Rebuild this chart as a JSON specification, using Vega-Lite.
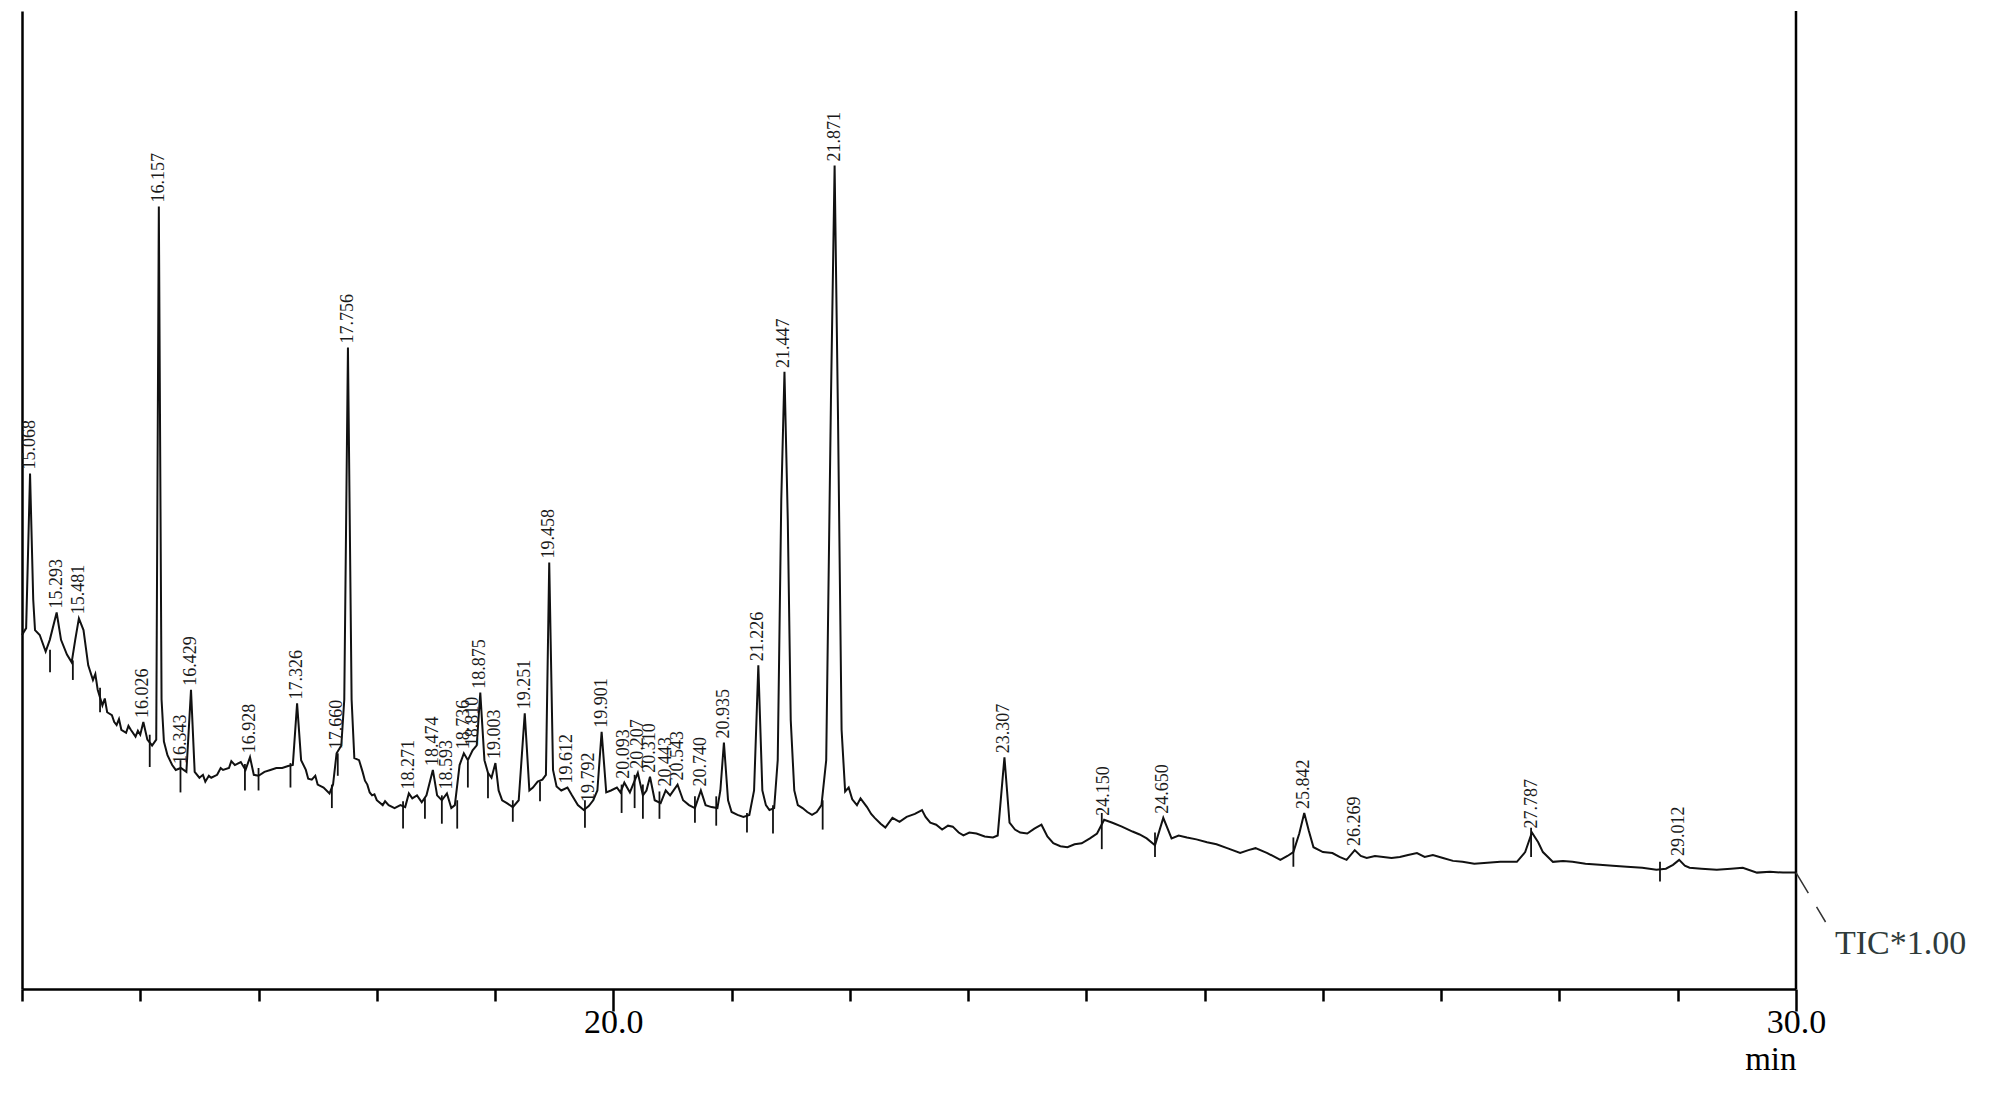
{
  "$schema": "https://vega.github.io/schema/vega-lite/v6.json",
  "autosize": "none",
  "width": 1774,
  "height": 978,
  "padding": {"left": 22, "top": 11, "right": 204, "bottom": 111},
  "background": "white",
  "config": {"view": {"stroke": null}},
  "datasets": {
    "trace": [
      {"t":15.000,"v":36.2},{"t":15.035,"v":36.9},{"t":15.068,"v":52.7},{"t":15.095,"v":39.8},{"t":15.110,"v":36.7},
      {"t":15.150,"v":36.2},{"t":15.200,"v":34.5},{"t":15.235,"v":35.7},{"t":15.293,"v":38.5},{"t":15.330,"v":35.7},
      {"t":15.380,"v":34.2},{"t":15.420,"v":33.4},{"t":15.450,"v":35.7},{"t":15.481,"v":37.9},{"t":15.520,"v":36.7},
      {"t":15.560,"v":33.1},{"t":15.600,"v":31.6},{"t":15.620,"v":32.2},{"t":15.640,"v":30.6},{"t":15.680,"v":29.0},{"t":15.700,"v":29.7},{"t":15.720,"v":28.3},
      {"t":15.760,"v":28.0},{"t":15.780,"v":27.3},{"t":15.800,"v":27.0},{"t":15.820,"v":27.6},{"t":15.840,"v":26.5},{"t":15.880,"v":26.2},{"t":15.900,"v":26.9},{"t":15.920,"v":26.5},
      {"t":15.960,"v":25.8},{"t":15.980,"v":26.4},{"t":16.000,"v":26.0},{"t":16.026,"v":27.3},{"t":16.060,"v":25.5},{"t":16.100,"v":24.9},
      {"t":16.135,"v":25.5},{"t":16.157,"v":80.0},{"t":16.180,"v":29.6},{"t":16.200,"v":25.3},{"t":16.230,"v":23.9},
      {"t":16.270,"v":22.9},{"t":16.300,"v":22.4},{"t":16.343,"v":22.6},{"t":16.390,"v":22.2},{"t":16.429,"v":30.6},
      {"t":16.460,"v":22.2},{"t":16.500,"v":21.6},{"t":16.530,"v":21.9},{"t":16.550,"v":21.2},{"t":16.580,"v":21.8},{"t":16.600,"v":21.6},{"t":16.650,"v":21.9},
      {"t":16.680,"v":22.6},{"t":16.700,"v":22.4},{"t":16.750,"v":22.6},{"t":16.770,"v":23.3},{"t":16.800,"v":22.9},{"t":16.850,"v":23.2},{"t":16.890,"v":22.4},
      {"t":16.928,"v":23.7},{"t":16.960,"v":21.9},{"t":17.000,"v":21.8},{"t":17.050,"v":22.2},{"t":17.100,"v":22.4},
      {"t":17.150,"v":22.6},{"t":17.200,"v":22.6},{"t":17.250,"v":22.8},{"t":17.290,"v":22.9},{"t":17.326,"v":29.2},
      {"t":17.360,"v":23.4},{"t":17.400,"v":22.4},{"t":17.420,"v":21.5},{"t":17.450,"v":21.4},{"t":17.480,"v":21.8},{"t":17.500,"v":20.9},{"t":17.550,"v":20.6},
      {"t":17.600,"v":20.0},{"t":17.630,"v":20.9},{"t":17.660,"v":24.1},{"t":17.700,"v":24.9},{"t":17.725,"v":29.6},
      {"t":17.756,"v":65.6},{"t":17.787,"v":29.6},{"t":17.810,"v":23.6},{"t":17.850,"v":23.4},{"t":17.880,"v":22.2},
      {"t":17.900,"v":21.3},{"t":17.920,"v":20.9},{"t":17.940,"v":20.1},{"t":17.960,"v":19.8},{"t":17.980,"v":19.9},{"t":18.000,"v":19.3},{"t":18.050,"v":18.8},{"t":18.070,"v":19.2},{"t":18.100,"v":18.8},
      {"t":18.150,"v":18.5},{"t":18.200,"v":18.8},{"t":18.240,"v":18.6},{"t":18.271,"v":20.0},{"t":18.300,"v":19.5},
      {"t":18.340,"v":19.8},{"t":18.380,"v":19.1},{"t":18.420,"v":19.8},{"t":18.474,"v":22.4},{"t":18.510,"v":19.8},
      {"t":18.550,"v":19.3},{"t":18.593,"v":20.0},{"t":18.630,"v":18.5},{"t":18.660,"v":18.8},{"t":18.700,"v":22.9},
      {"t":18.736,"v":24.1},{"t":18.770,"v":23.4},{"t":18.810,"v":24.4},{"t":18.845,"v":24.9},{"t":18.875,"v":30.3},
      {"t":18.910,"v":23.4},{"t":18.940,"v":22.1},{"t":18.970,"v":21.6},{"t":19.003,"v":23.1},{"t":19.030,"v":20.3},
      {"t":19.060,"v":19.3},{"t":19.100,"v":19.0},{"t":19.150,"v":18.6},{"t":19.200,"v":19.3},{"t":19.251,"v":28.2},
      {"t":19.290,"v":20.3},{"t":19.320,"v":20.6},{"t":19.360,"v":21.2},{"t":19.400,"v":21.4},{"t":19.430,"v":21.9},
      {"t":19.458,"v":43.6},{"t":19.490,"v":22.4},{"t":19.520,"v":20.7},{"t":19.560,"v":20.3},{"t":19.612,"v":20.6},
      {"t":19.650,"v":19.8},{"t":19.700,"v":18.8},{"t":19.750,"v":18.3},{"t":19.792,"v":18.7},{"t":19.830,"v":19.3},
      {"t":19.865,"v":20.3},{"t":19.901,"v":26.3},{"t":19.940,"v":20.1},{"t":19.980,"v":20.3},{"t":20.030,"v":20.6},
      {"t":20.060,"v":20.1},{"t":20.093,"v":21.1},{"t":20.140,"v":20.1},{"t":20.207,"v":22.1},{"t":20.250,"v":19.8},
      {"t":20.280,"v":20.3},{"t":20.310,"v":21.7},{"t":20.350,"v":19.3},{"t":20.400,"v":19.0},{"t":20.443,"v":20.3},
      {"t":20.480,"v":19.8},{"t":20.543,"v":20.9},{"t":20.590,"v":19.3},{"t":20.640,"v":18.8},{"t":20.690,"v":18.5},
      {"t":20.740,"v":20.3},{"t":20.780,"v":18.8},{"t":20.830,"v":18.6},{"t":20.880,"v":18.5},{"t":20.905,"v":20.3},
      {"t":20.935,"v":25.2},{"t":20.970,"v":19.3},{"t":21.000,"v":18.1},{"t":21.050,"v":17.8},{"t":21.100,"v":17.6},
      {"t":21.150,"v":17.8},{"t":21.190,"v":20.3},{"t":21.226,"v":33.1},{"t":21.260,"v":20.3},{"t":21.290,"v":18.8},
      {"t":21.320,"v":18.3},{"t":21.360,"v":18.5},{"t":21.390,"v":23.4},{"t":21.420,"v":50.0},{"t":21.447,"v":63.1},
      {"t":21.475,"v":48.0},{"t":21.500,"v":27.5},{"t":21.530,"v":20.3},{"t":21.560,"v":18.8},{"t":21.600,"v":18.5},
      {"t":21.640,"v":18.1},{"t":21.680,"v":17.8},{"t":21.720,"v":18.1},{"t":21.760,"v":18.8},{"t":21.800,"v":23.4},
      {"t":21.840,"v":60.2},{"t":21.871,"v":84.2},{"t":21.900,"v":58.2},{"t":21.930,"v":26.5},{"t":21.960,"v":20.2},
      {"t":21.990,"v":20.6},{"t":22.020,"v":19.4},{"t":22.060,"v":18.8},{"t":22.090,"v":19.5},{"t":22.145,"v":18.6},{"t":22.180,"v":17.9},
      {"t":22.210,"v":17.5},{"t":22.260,"v":16.9},{"t":22.300,"v":16.5},{"t":22.360,"v":17.5},{"t":22.420,"v":17.1},
      {"t":22.480,"v":17.6},{"t":22.550,"v":17.9},{"t":22.610,"v":18.3},{"t":22.640,"v":17.6},{"t":22.680,"v":17.0},
      {"t":22.730,"v":16.8},{"t":22.780,"v":16.3},{"t":22.830,"v":16.7},{"t":22.870,"v":16.6},{"t":22.920,"v":16.0},
      {"t":22.960,"v":15.7},{"t":23.010,"v":16.0},{"t":23.070,"v":15.9},{"t":23.140,"v":15.6},{"t":23.210,"v":15.5},
      {"t":23.250,"v":15.7},{"t":23.307,"v":23.7},{"t":23.350,"v":17.0},{"t":23.396,"v":16.3},{"t":23.440,"v":16.0},
      {"t":23.500,"v":15.9},{"t":23.560,"v":16.4},{"t":23.620,"v":16.8},{"t":23.670,"v":15.6},{"t":23.720,"v":14.9},
      {"t":23.780,"v":14.6},{"t":23.840,"v":14.5},{"t":23.900,"v":14.8},{"t":23.960,"v":14.9},{"t":24.030,"v":15.4},
      {"t":24.090,"v":15.9},{"t":24.150,"v":17.3},{"t":24.220,"v":17.0},{"t":24.300,"v":16.6},{"t":24.390,"v":16.1},
      {"t":24.450,"v":15.8},{"t":24.510,"v":15.4},{"t":24.580,"v":14.7},{"t":24.650,"v":17.5},{"t":24.720,"v":15.4},
      {"t":24.780,"v":15.7},{"t":24.850,"v":15.5},{"t":24.930,"v":15.3},{"t":25.020,"v":15.0},{"t":25.100,"v":14.8},
      {"t":25.190,"v":14.4},{"t":25.300,"v":13.9},{"t":25.370,"v":14.2},{"t":25.430,"v":14.4},{"t":25.530,"v":13.9},
      {"t":25.640,"v":13.2},{"t":25.700,"v":13.6},{"t":25.750,"v":14.0},{"t":25.800,"v":15.9},{"t":25.842,"v":18.0},
      {"t":25.880,"v":16.2},{"t":25.920,"v":14.5},{"t":26.000,"v":14.0},{"t":26.080,"v":13.9},{"t":26.140,"v":13.5},
      {"t":26.200,"v":13.2},{"t":26.269,"v":14.2},{"t":26.320,"v":13.6},{"t":26.370,"v":13.4},{"t":26.440,"v":13.6},
      {"t":26.510,"v":13.5},{"t":26.580,"v":13.4},{"t":26.650,"v":13.5},{"t":26.720,"v":13.7},{"t":26.795,"v":13.9},
      {"t":26.860,"v":13.5},{"t":26.930,"v":13.7},{"t":27.015,"v":13.4},{"t":27.100,"v":13.1},{"t":27.180,"v":13.0},
      {"t":27.280,"v":12.8},{"t":27.390,"v":12.9},{"t":27.500,"v":13.0},{"t":27.640,"v":13.0},{"t":27.710,"v":14.0},
      {"t":27.767,"v":16.0},{"t":27.820,"v":15.0},{"t":27.860,"v":14.0},{"t":27.945,"v":13.0},{"t":28.030,"v":13.1},
      {"t":28.110,"v":13.0},{"t":28.220,"v":12.8},{"t":28.340,"v":12.7},{"t":28.450,"v":12.6},{"t":28.570,"v":12.5},
      {"t":28.700,"v":12.4},{"t":28.820,"v":12.2},{"t":28.900,"v":12.3},{"t":28.960,"v":12.7},{"t":29.012,"v":13.2},
      {"t":29.060,"v":12.6},{"t":29.100,"v":12.4},{"t":29.200,"v":12.3},{"t":29.330,"v":12.2},{"t":29.450,"v":12.3},
      {"t":29.550,"v":12.4},{"t":29.670,"v":11.9},{"t":29.780,"v":12.0},{"t":29.890,"v":11.9},{"t":30.000,"v":11.9}
    ],
    "peaks": [
      {"t":15.068,"v":52.7,"label":"15.068"},{"t":15.293,"v":38.5,"label":"15.293"},{"t":15.481,"v":37.9,"label":"15.481"},
      {"t":16.026,"v":27.3,"label":"16.026"},{"t":16.157,"v":80.0,"label":"16.157"},{"t":16.343,"v":22.6,"label":"16.343"},
      {"t":16.429,"v":30.6,"label":"16.429"},{"t":16.928,"v":23.7,"label":"16.928"},{"t":17.326,"v":29.2,"label":"17.326"},
      {"t":17.660,"v":24.1,"label":"17.660"},{"t":17.756,"v":65.6,"label":"17.756"},{"t":18.271,"v":20.0,"label":"18.271"},
      {"t":18.474,"v":22.4,"label":"18.474"},{"t":18.593,"v":20.0,"label":"18.593"},{"t":18.736,"v":24.1,"label":"18.736"},
      {"t":18.810,"v":24.4,"label":"18.810"},{"t":18.875,"v":30.3,"label":"18.875"},{"t":19.003,"v":23.1,"label":"19.003"},
      {"t":19.251,"v":28.2,"label":"19.251"},{"t":19.458,"v":43.6,"label":"19.458"},{"t":19.612,"v":20.6,"label":"19.612"},
      {"t":19.792,"v":18.7,"label":"19.792"},{"t":19.901,"v":26.3,"label":"19.901"},{"t":20.093,"v":21.1,"label":"20.093"},
      {"t":20.207,"v":22.1,"label":"20.207"},{"t":20.310,"v":21.7,"label":"20.310"},{"t":20.443,"v":20.3,"label":"20.443"},
      {"t":20.543,"v":20.9,"label":"20.543"},{"t":20.740,"v":20.3,"label":"20.740"},{"t":20.935,"v":25.2,"label":"20.935"},
      {"t":21.226,"v":33.1,"label":"21.226"},{"t":21.447,"v":63.1,"label":"21.447"},{"t":21.871,"v":84.2,"label":"21.871"},
      {"t":23.307,"v":23.7,"label":"23.307"},{"t":24.150,"v":17.3,"label":"24.150"},{"t":24.650,"v":17.5,"label":"24.650"},
      {"t":25.842,"v":18.0,"label":"25.842"},{"t":26.269,"v":14.2,"label":"26.269"},{"t":27.767,"v":16.0,"label":"27.787"},
      {"t":29.012,"v":13.2,"label":"29.012"}
    ],
    "marks": [
      {"t":15.237,"v":34.7,"v2":32.4},{"t":15.43,"v":33.6,"v2":31.6},{"t":15.66,"v":30.8,"v2":28.3},{"t":16.08,"v":26.0,"v2":22.7},
      {"t":16.34,"v":23.4,"v2":20.1},{"t":16.885,"v":23.0,"v2":20.3},{"t":17.0,"v":22.6,"v2":20.3},{"t":17.27,"v":23.1,"v2":20.6},
      {"t":17.62,"v":20.9,"v2":18.5},{"t":17.67,"v":24.1,"v2":21.8},{"t":18.222,"v":19.2,"v2":16.4},{"t":18.407,"v":19.5,"v2":17.4},
      {"t":18.55,"v":19.8,"v2":16.9},{"t":18.68,"v":19.3,"v2":16.4},{"t":18.77,"v":23.3,"v2":20.6},{"t":18.94,"v":22.1,"v2":19.5},
      {"t":19.15,"v":19.3,"v2":17.1},{"t":19.38,"v":21.2,"v2":19.2},{"t":19.76,"v":19.3,"v2":16.5},{"t":20.07,"v":20.9,"v2":18.0},
      {"t":20.18,"v":21.9,"v2":18.5},{"t":20.25,"v":20.9,"v2":17.4},{"t":20.39,"v":20.2,"v2":17.4},{"t":20.69,"v":19.7,"v2":17.0},
      {"t":20.87,"v":19.7,"v2":16.7},{"t":21.13,"v":18.0,"v2":16.0},{"t":21.35,"v":18.8,"v2":15.9},{"t":21.77,"v":19.3,"v2":16.3},
      {"t":24.13,"v":18.0,"v2":14.3},{"t":24.58,"v":16.0,"v2":13.5},{"t":25.75,"v":15.5,"v2":12.5},{"t":27.76,"v":16.5,"v2":13.5},
      {"t":28.85,"v":13.0,"v2":11.0}
    ],
    "frame": [{"t":30,"v":0,"v2":100}],
    "tic": [{"t":30.0,"v":11.9},{"t":30.25,"v":6.85}],
    "ticlabel": [{"t":30.33,"v":4.6,"label":"TIC*1.00"}]
  },
  "encoding": {
    "x": {
      "field": "t", "type": "quantitative",
      "scale": {"domain": [15, 30], "nice": false, "zero": false},
      "axis": {
        "values": [15,16,17,18,19,20,21,22,23,24,25,26,27,28,29,30],
        "grid": false,
        "domainColor": "#000", "domainWidth": 2.5,
        "tickColor": "#000", "tickWidth": 2.5,
        "tickSize": {"condition": {"test": "datum.value == 20 || datum.value == 30", "value": 22}, "value": 12},
        "labelExpr": "datum.value == 20 || datum.value == 30 ? format(datum.value, '.1f') : ''",
        "labelFont": "Liberation Serif", "labelFontSize": 34, "labelColor": "#000",
        "labelPadding": -6, "labelFlush": false, "labelOverlap": false,
        "title": "min",
        "titleFont": "Liberation Serif", "titleFontSize": 33, "titleFontWeight": "normal", "titleColor": "#000",
        "titleAnchor": "end", "titleAlign": "right", "titleBaseline": "alphabetic",
        "titleX": 1774, "titleY": 80
      }
    },
    "y": {
      "field": "v", "type": "quantitative",
      "scale": {"domain": [0, 100], "nice": false, "zero": false},
      "axis": {"title": null, "ticks": false, "labels": false, "grid": false, "domainColor": "#000", "domainWidth": 2.5}
    }
  },
  "layer": [
    {
      "data": {"name": "trace"},
      "mark": {"type": "line", "color": "#111", "strokeWidth": 2, "strokeJoin": "miter"}
    },
    {
      "data": {"name": "marks"},
      "mark": {"type": "rule", "color": "#111", "strokeWidth": 1.8},
      "encoding": {"y2": {"field": "v2"}}
    },
    {
      "data": {"name": "peaks"},
      "mark": {"type": "text", "angle": 270, "align": "left", "baseline": "middle", "dx": 4, "font": "Liberation Serif", "fontSize": 18, "color": "#1a1a1a"},
      "encoding": {"text": {"field": "label"}}
    },
    {
      "data": {"name": "frame"},
      "mark": {"type": "rule", "color": "#000", "strokeWidth": 2.5},
      "encoding": {"y2": {"field": "v2"}}
    },
    {
      "data": {"name": "tic"},
      "mark": {"type": "line", "color": "#333", "strokeWidth": 1.5, "strokeDash": [24, 16]}
    },
    {
      "data": {"name": "ticlabel"},
      "mark": {"type": "text", "align": "left", "baseline": "middle", "font": "Liberation Serif", "fontSize": 34, "color": "#2f3b3b"},
      "encoding": {"text": {"field": "label"}}
    }
  ]
}
